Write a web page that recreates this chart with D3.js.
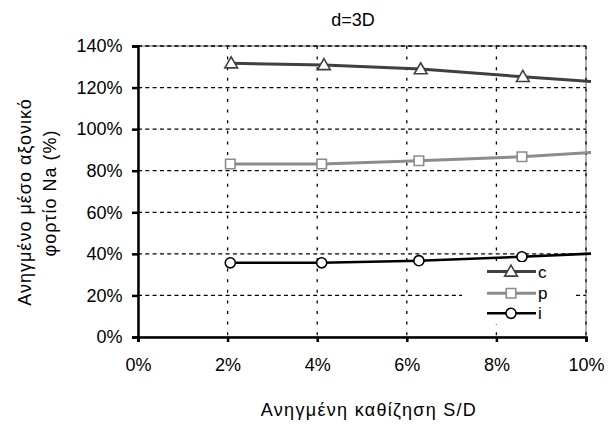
<!DOCTYPE html>
<html><head><meta charset="utf-8">
<script src="https://cdn.jsdelivr.net/npm/d3@7"></script>
<style>body{margin:0;background:#fff;} text{font-family:"Liberation Sans",Arial,sans-serif;}</style>
</head><body><svg id="c" width="614" height="424"></svg>
<script>
const title = "d=3D";
const xLabel = "Ανηγμένη καθίζηση S/D";
const yLabelLines = ["Ανηγμένο μέσο αξονικό", "φορτίο Na (%)"];
const xTicks = [0, 2, 4, 6, 8, 10];
const yTicks = [0, 20, 40, 60, 80, 100, 120, 140];
const seriesNames = ["c", "p", "i"];
const cX = [2.08, 4.15, 6.31, 8.59, 10.6];
const cY = [131.7, 130.9, 128.9, 125.2, 122.2];
const pX = [2.06, 4.1, 6.27, 8.57, 10.6];
const pY = [83.2, 83.2, 84.8, 86.7, 89.4];
const iX = [2.06, 4.1, 6.27, 8.57, 10.6];
const iY = [35.7, 35.7, 36.7, 38.6, 40.6];

const svg = d3.select("#c");
const L = 138, R = 586, T = 46, B = 337;
const x = d3.scaleLinear().domain([0, 10]).range([L, R]);
const y = d3.scaleLinear().domain([0, 140]).range([B, T]);

// plot border (gray)
svg.append("rect").attr("x", L).attr("y", T).attr("width", R - L).attr("height", B - T)
  .attr("fill", "#fff").attr("stroke", "#999").attr("stroke-width", 1.5);

// gridlines
svg.append("g").selectAll("line").data(yTicks.filter(d => d > 0)).join("line")
  .attr("x1", L).attr("x2", R).attr("y1", d => y(d)).attr("y2", d => y(d))
  .attr("stroke", "#000").attr("stroke-width", 1.3).attr("stroke-dasharray", "4,3.3");
svg.append("g").selectAll("line").data(xTicks.filter(d => d > 0)).join("line")
  .attr("x1", d => x(d)).attr("x2", d => x(d)).attr("y1", T).attr("y2", B)
  .attr("stroke", "#000").attr("stroke-width", 1.3).attr("stroke-dasharray", "3,7.6");

// clip
svg.append("defs").append("clipPath").attr("id", "clip").append("rect")
  .attr("x", L - 10).attr("y", T - 10).attr("width", R - L + 15).attr("height", B - T + 20);

const series = [
  {name: "c", xs: cX, ys: cY, color: "#404040", w: 3, marker: "tri"},
  {name: "p", xs: pX, ys: pY, color: "#8c8c8c", w: 3, marker: "sq"},
  {name: "i", xs: iX, ys: iY, color: "#000", w: 2.6, marker: "circ"}
];
const line = d3.line().x(d => x(d[0])).y(d => y(d[1]));
const symbols = {tri: d3.symbolTriangle, sq: d3.symbolSquare, circ: d3.symbolCircle};
const sizes = {tri: 70, sq: 90, circ: 80};
const pg = svg.append("g").attr("clip-path", "url(#clip)");
series.forEach(s => {
  const pts = s.xs.map((v, k) => [v, s.ys[k]]);
  pg.append("path").attr("d", line(pts)).attr("fill", "none")
    .attr("stroke", s.color).attr("stroke-width", s.w);
  pg.selectAll(null).data(pts).join("path")
    .attr("transform", d => `translate(${x(d[0])},${y(d[1]) + (s.marker === "tri" ? 1 : 0)})`)
    .attr("d", d3.symbol().type(symbols[s.marker]).size(sizes[s.marker]))
    .attr("fill", "#fff").attr("stroke", s.color).attr("stroke-width", 1.6);
});

// axes
const yAxis = svg.append("g").attr("transform", `translate(${L},0)`)
  .call(d3.axisLeft(y).tickValues(yTicks).tickSize(6).tickPadding(9.5).tickFormat(d => d + "%"));
const xAxis = svg.append("g").attr("transform", `translate(0,${B})`)
  .call(d3.axisBottom(x).tickValues(xTicks).tickSize(5).tickPadding(16).tickFormat(d => d + "%"));
[yAxis, xAxis].forEach(a => {
  a.select(".domain").attr("stroke", "#000").attr("stroke-width", 2.5);
  a.selectAll(".tick line").attr("stroke", "#000").attr("stroke-width", 2.5);
  a.selectAll("text").attr("font-size", 18).attr("fill", "#000")
    .style("font-family", "'Liberation Sans', Arial, sans-serif");
});

// legend
const lg = svg.append("g");
lg.append("rect").attr("x", 462).attr("y", 262).attr("width", 112).attr("height", 62).attr("fill", "#fff");
const legY = [271.5, 293.3, 313.3];
series.forEach((s, k) => {
  lg.append("line").attr("x1", 487).attr("x2", 536).attr("y1", legY[k]).attr("y2", legY[k])
    .attr("stroke", s.color).attr("stroke-width", s.w);
  lg.append("path").attr("transform", `translate(511,${legY[k] + (s.marker === "tri" ? 1 : 0)})`)
    .attr("d", d3.symbol().type(symbols[s.marker]).size(sizes[s.marker]))
    .attr("fill", "#fff").attr("stroke", s.color).attr("stroke-width", 1.6);
  lg.append("text").attr("x", 538).attr("y", legY[k] + 6).attr("font-size", 17).text(seriesNames[k]);
});

// titles
svg.append("text").attr("x", 353).attr("y", 26).attr("text-anchor", "middle").attr("font-size", 18).text(title);
svg.append("text").attr("x", 369).attr("y", 416).attr("text-anchor", "middle").attr("font-size", 18)
  .attr("letter-spacing", 1.3).text(xLabel);
svg.append("text").attr("transform", "translate(31,202) rotate(-90)").attr("text-anchor", "middle")
  .attr("font-size", 18).attr("letter-spacing", 1).text(yLabelLines[0]);
svg.append("text").attr("transform", "translate(56,193) rotate(-90)").attr("text-anchor", "middle")
  .attr("font-size", 18).attr("letter-spacing", 1).text(yLabelLines[1]);
</script></body></html>
